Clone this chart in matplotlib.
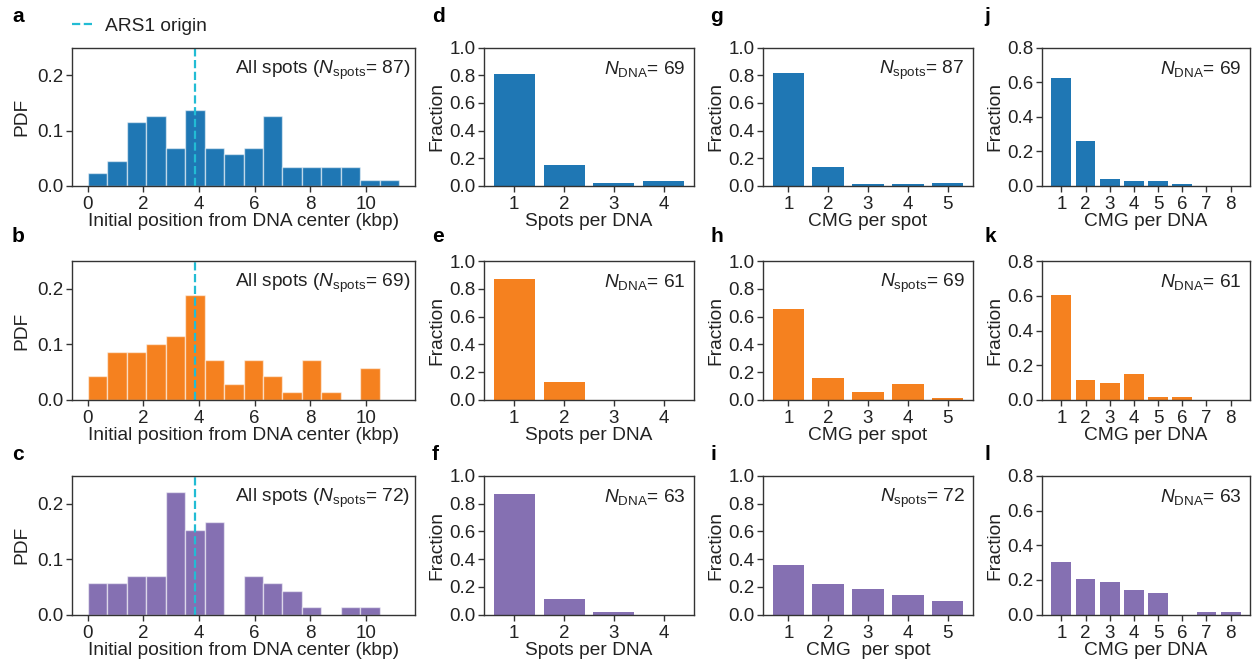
import numpy as np
import matplotlib
matplotlib.use('Agg')
import matplotlib.pyplot as plt

plt.rcParams['font.family'] = ['Liberation Sans', 'DejaVu Sans']
plt.rcParams['mathtext.fontset'] = 'custom'
plt.rcParams['mathtext.rm'] = 'Liberation Sans'
plt.rcParams['mathtext.it'] = 'Liberation Sans:italic'
plt.rcParams['mathtext.bf'] = 'Liberation Sans:bold'
plt.rcParams['axes.edgecolor'] = '#333333'
plt.rcParams['text.color'] = '#222222'
plt.rcParams['axes.labelcolor'] = '#222222'
plt.rcParams['xtick.color'] = '#333333'
plt.rcParams['ytick.color'] = '#333333'
plt.rcParams['xtick.labelcolor'] = '#222222'
plt.rcParams['ytick.labelcolor'] = '#222222'

# ---- data ----
colors = ['#1f77b4', '#f5811f', '#8570b2']
ars1_kbp = 3.87
bin_width = 0.7

# PDF of initial position (fraction of spots per 0.7 kbp bin)
pdf_blue = [0.023, 0.046, 0.115, 0.126, 0.069, 0.138, 0.069, 0.057,
            0.069, 0.126, 0.034, 0.034, 0.034, 0.034, 0.011, 0.011]
pdf_orange = [0.043, 0.087, 0.087, 0.101, 0.116, 0.188, 0.072, 0.029,
              0.072, 0.043, 0.014, 0.072, 0.014, 0.0, 0.058, 0.0]
pdf_purple = [0.056, 0.056, 0.069, 0.069, 0.222, 0.153, 0.167, 0.0,
              0.069, 0.056, 0.042, 0.014, 0.0, 0.014, 0.014, 0.0]
n_spots = [87, 69, 72]
n_dna = [69, 61, 63]

spots_per_dna = [[0.812, 0.150, 0.020, 0.033],
                 [0.869, 0.131, 0.0, 0.0],
                 [0.873, 0.111, 0.016, 0.0]]
cmg_per_spot = [[0.816, 0.138, 0.011, 0.011, 0.023],
                [0.652, 0.159, 0.058, 0.116, 0.014],
                [0.361, 0.222, 0.181, 0.139, 0.097]]
cmg_per_dna = [[0.623, 0.261, 0.043, 0.029, 0.029, 0.014, 0.0, 0.0],
               [0.607, 0.115, 0.098, 0.148, 0.016, 0.016, 0.0, 0.0],
               [0.302, 0.206, 0.190, 0.143, 0.127, 0.0, 0.016, 0.016]]
cmg_spot_xlabels = ['CMG per spot', 'CMG per spot', 'CMG  per spot']

letters = [['a', 'd', 'g', 'j'], ['b', 'e', 'h', 'k'], ['c', 'f', 'i', 'l']]

TICK_FS = 13.5
LAB_FS = 13.8

fig = plt.figure(figsize=(12.52, 6.66), dpi=100)
W, H = 1252.0, 666.0

col_px = [(72, 415), (484, 694), (763, 973), (1042, 1250)]
row_px = [(47.5, 186), (261, 400), (476, 614.5)]
letter_x = [12, 432, 710, 984]
letter_y = [17, 236, 454]


def add_ax(r, c):
    x0, x1 = col_px[c]
    t, b = row_px[r]
    return fig.add_axes([x0 / W, 1 - b / H, (x1 - x0) / W, (b - t) / H])


def style(ax):
    ax.tick_params(direction='out', length=4, width=1, labelsize=TICK_FS)
    ax.tick_params(axis='x', pad=3.5)
    ax.tick_params(axis='y', pad=2)
    for s in ax.spines.values():
        s.set_linewidth(1)


pdfs = [pdf_blue, pdf_orange, pdf_purple]
for r in range(3):
    col = colors[r]
    # histogram of initial positions
    ax = add_ax(r, 0)
    lefts = bin_width * np.arange(len(pdfs[r]))
    ax.bar(lefts, pdfs[r], width=bin_width, align='edge', color=col,
           edgecolor=(1, 1, 1, 0.55), linewidth=1)
    ax.axvline(ars1_kbp, color='#22bcd4', ls='--', lw=1.6, label='ARS1 origin')
    ax.set_ylim(0, 0.25)
    ax.set_yticks([0.0, 0.1, 0.2])
    ax.set_yticklabels(['0.0', '0.1', '0.2'])
    ax.set_xticks([0, 2, 4, 6, 8, 10])
    ax.set_xlabel('Initial position from DNA center (kbp)', fontsize=LAB_FS, labelpad=0)
    ax.set_ylabel('PDF', fontsize=LAB_FS, labelpad=5)
    ax.text(0.985, 0.92, r'All spots ($N_{\rm spots}$= %d)' % n_spots[r],
            transform=ax.transAxes, ha='right', va='top', fontsize=LAB_FS)
    style(ax)
    if r == 0:
        ax.legend(loc='lower left', bbox_to_anchor=(0.0, 1.09), frameon=False,
                  fontsize=LAB_FS, handlelength=1.2, handletextpad=0.5,
                  borderaxespad=0, borderpad=0)

    # spots per DNA
    ax = add_ax(r, 1)
    x = np.arange(1, len(spots_per_dna[r]) + 1)
    ax.bar(x, spots_per_dna[r], width=0.82, color=col)
    ax.set_ylim(0, 1.0)
    ax.set_yticks(np.arange(0, 1.01, 0.2))
    ax.set_xticks(x)
    ax.set_xlabel('Spots per DNA', fontsize=LAB_FS, labelpad=0)
    ax.set_ylabel('Fraction', fontsize=LAB_FS, labelpad=3)
    ax.text(0.96, 0.92, r'$N_{\rm DNA}$= %d' % n_dna[r],
            transform=ax.transAxes, ha='right', va='top', fontsize=LAB_FS)
    style(ax)

    # CMG per spot
    ax = add_ax(r, 2)
    x = np.arange(1, len(cmg_per_spot[r]) + 1)
    ax.bar(x, cmg_per_spot[r], width=0.8, color=col)
    ax.set_ylim(0, 1.0)
    ax.set_yticks(np.arange(0, 1.01, 0.2))
    ax.set_xticks(x)
    ax.set_xlabel(cmg_spot_xlabels[r], fontsize=LAB_FS, labelpad=0)
    ax.set_ylabel('Fraction', fontsize=LAB_FS, labelpad=3)
    ax.text(0.96, 0.92, r'$N_{\rm spots}$= %d' % n_spots[r],
            transform=ax.transAxes, ha='right', va='top', fontsize=LAB_FS)
    style(ax)

    # CMG per DNA
    ax = add_ax(r, 3)
    x = np.arange(1, len(cmg_per_dna[r]) + 1)
    ax.bar(x, cmg_per_dna[r], width=0.82, color=col)
    ax.set_ylim(0, 0.8)
    ax.set_yticks(np.arange(0, 0.81, 0.2))
    ax.set_xticks(x)
    ax.set_xlabel('CMG per DNA', fontsize=LAB_FS, labelpad=0)
    ax.set_ylabel('Fraction', fontsize=LAB_FS, labelpad=3)
    ax.text(0.96, 0.92, r'$N_{\rm DNA}$= %d' % n_dna[r],
            transform=ax.transAxes, ha='right', va='top', fontsize=LAB_FS)
    style(ax)

# panel letters
for r in range(3):
    for c in range(4):
        fig.text(letter_x[c] / W, 1 - letter_y[r] / H, letters[r][c],
                 fontsize=15, fontweight='bold', color='black',
                 ha='left', va='center')

fig.savefig('out.png', dpi=100)
